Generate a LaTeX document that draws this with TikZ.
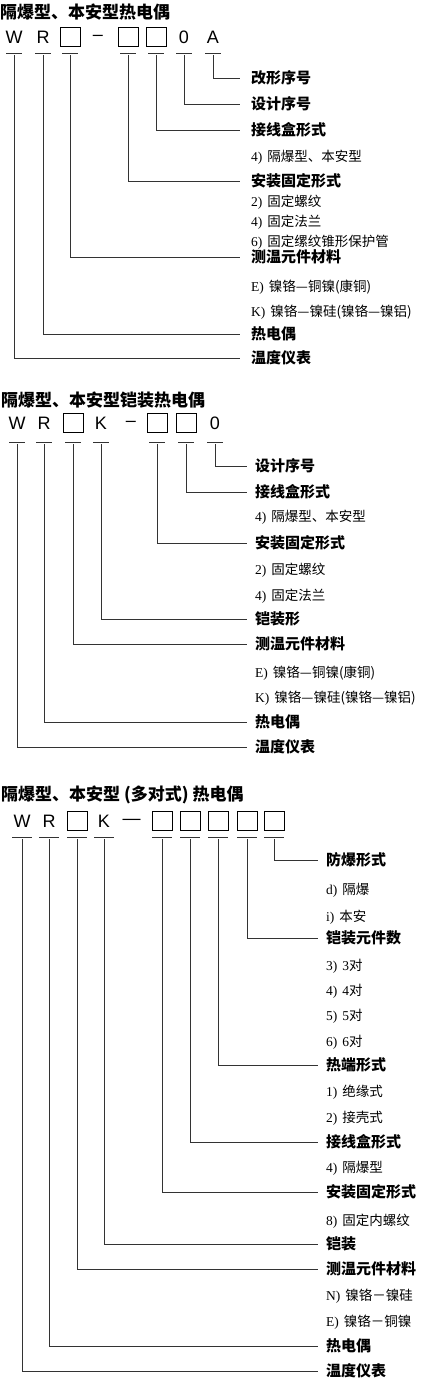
\documentclass[tikz,border=0pt]{standalone}
\usepackage{fontspec}
\setmainfont{Liberation Serif}
\newfontfamily\cjk{Noto Sans CJK SC}
\newfontfamily\lsans{Liberation Sans}
\usetikzlibrary{calc}
\newcommand\ittx[2]{#1\hspace{5pt}{\cjk #2}}
\begin{document}
\begin{tikzpicture}[x=1pt,y=-1pt,
  ttl/.style={anchor=west,inner sep=0pt,font=\cjk\bfseries\fontsize{17}{17}\selectfont},
  ch/.style={inner sep=0pt,font=\lsans\fontsize{18}{18}\selectfont},
  bx/.style={draw,line width=0.8pt,minimum width=20pt,minimum height=19pt,inner sep=0pt},
  hd/.style={anchor=west,inner sep=0pt,font=\cjk\bfseries\fontsize{15}{15}\selectfont},
  itm/.style={anchor=west,inner sep=0pt,font=\fontsize{13.5}{13.5}\selectfont},
  conn/.style={line width=0.6pt,draw=black!80},
  tk/.style={line width=0.6pt,draw=black!80}
]
\useasboundingbox (0,0) rectangle (427,1379);

% ===== Section 1 =====
\node[ttl] (aT) at (0,12) {隔爆型、本安型热电偶};
\node[ch] (aW) at (14,37) {W};
\node[ch] (aR) at (43,37) {R};
\node[bx] (aB1) at (70,37) {};
\node[ch] (aD) at (98,38) {–};
\node[bx] (aB2) at (128,37) {};
\node[bx] (aB3) at (156,37) {};
\node[ch] (a0) at (184,37) {0};
\node[ch] (aA) at (213,37) {A};
\coordinate (at) at (0,53);
\coordinate (av) at (0,55);
\foreach \n in {aW,aR,aB1,aB2,aB3,a0,aA}
  \draw[tk] ($(\n |- at)+(-8,0)$) -- ($(\n |- at)+(8,0)$);

\node[hd] (aL1) at (251,78) {改形序号};
\node[hd] (aL2) at (251,104) {设计序号};
\node[hd] (aL3) at (251,130) {接线盒形式};
\node[itm] (aI1) at (251,157) {\ittx{4)}{隔爆型、本安型}};
\node[hd] (aL4) at (251,181) {安装固定形式};
\node[itm] (aI2) at (251,202) {\ittx{2)}{固定螺纹}};
\node[itm] (aI3) at (251,222) {\ittx{4)}{固定法兰}};
\node[itm] (aI4) at (251,242) {\ittx{6)}{固定缧纹锥形保护管}};
\node[hd] (aL5) at (251,257) {测温元件材料};
\node[itm] (aI5) at (251,287) {\ittx{E)}{镍铬—铜镍(康铜)}};
\node[itm] (aI6) at (251,312) {\ittx{K)}{镍铬—镍硅(镍铬—镍铝)}};
\node[hd] (aL6) at (251,334) {热电偶};
\node[hd] (aL7) at (251,358) {温度仪表};

\draw[conn,shorten >=11pt] (aA |- av) |- (aL1.west);
\draw[conn,shorten >=11pt] (a0 |- av) |- (aL2.west);
\draw[conn,shorten >=11pt] (aB3 |- av) |- (aL3.west);
\draw[conn,shorten >=11pt] (aB2 |- av) |- (aL4.west);
\draw[conn,shorten >=11pt] (aB1 |- av) |- (aL5.west);
\draw[conn,shorten >=11pt] (aR |- av) |- (aL6.west);
\draw[conn,shorten >=11pt] (aW |- av) |- (aL7.west);

% ===== Section 2 =====
\node[ttl] (bT) at (1,400) {隔爆型、本安型铠装热电偶};
\node[ch] (bW) at (17,423) {W};
\node[ch] (bR) at (44,423) {R};
\node[bx] (bB1) at (73,423) {};
\node[ch] (bK) at (101,423) {K};
\node[ch] (bD) at (131,424) {–};
\node[bx] (bB2) at (157,423) {};
\node[bx] (bB3) at (186,423) {};
\node[ch] (b0) at (215,423) {0};
\coordinate (bt) at (0,442);
\coordinate (bv) at (0,444);
\foreach \n in {bW,bR,bB1,bK,bB2,bB3,b0}
  \draw[tk] ($(\n |- bt)+(-8,0)$) -- ($(\n |- bt)+(8,0)$);

\node[hd] (bL1) at (255,466) {设计序号};
\node[hd] (bL2) at (255,492) {接线盒形式};
\node[itm] (bI1) at (255,517) {\ittx{4)}{隔爆型、本安型}};
\node[hd] (bL3) at (255,543) {安装固定形式};
\node[itm] (bI2) at (255,570) {\ittx{2)}{固定螺纹}};
\node[itm] (bI3) at (255,596) {\ittx{4)}{固定法兰}};
\node[hd] (bL4) at (255,619) {铠装形};
\node[hd] (bL5) at (255,644) {测温元件材料};
\node[itm] (bI4) at (255,673) {\ittx{E)}{镍铬—铜镍(康铜)}};
\node[itm] (bI5) at (255,698) {\ittx{K)}{镍铬—镍硅(镍铬—镍铝)}};
\node[hd] (bL6) at (255,722) {热电偶};
\node[hd] (bL7) at (255,747) {温度仪表};

\draw[conn,shorten >=8pt] (b0 |- bv) |- (bL1.west);
\draw[conn,shorten >=8pt] (bB3 |- bv) |- (bL2.west);
\draw[conn,shorten >=8pt] (bB2 |- bv) |- (bL3.west);
\draw[conn,shorten >=8pt] (bK |- bv) |- (bL4.west);
\draw[conn,shorten >=8pt] (bB1 |- bv) |- (bL5.west);
\draw[conn,shorten >=8pt] (bR |- bv) |- (bL6.west);
\draw[conn,shorten >=8pt] (bW |- bv) |- (bL7.west);

% ===== Section 3 =====
\node[ttl] (cT) at (1,795) {隔爆型、本安型 (多对式) 热电偶};
\node[ch] (cW) at (22,821) {W};
\node[ch] (cR) at (49,821) {R};
\node[bx] (cB1) at (77,821) {};
\node[ch] (cK) at (104,821) {K};
\node[ch] (cD) at (131.5,822) {—};
\node[bx] (cB2) at (162,821) {};
\node[bx] (cB3) at (190,821) {};
\node[bx] (cB4) at (218,821) {};
\node[bx] (cB5) at (247,821) {};
\node[bx] (cB6) at (274,821) {};
\coordinate (ct) at (0,837);
\coordinate (cv) at (0,839);
\foreach \n in {cW,cR,cB1,cK,cB2,cB3,cB4,cB5,cB6}
  \draw[tk] ($(\n |- ct)+(-10,0)$) -- ($(\n |- ct)+(10,0)$);

\node[hd] (cL1) at (326,860) {防爆形式};
\node[itm] (cI1) at (326,890) {\ittx{d)}{隔爆}};
\node[itm] (cI2) at (326,917) {\ittx{i)}{本安}};
\node[hd] (cL2) at (326,938) {铠装元件数};
\node[itm] (cI3) at (326,966) {\ittx{3)}{{\rmfamily 3}对}};
\node[itm] (cI4) at (326,991) {\ittx{4)}{{\rmfamily 4}对}};
\node[itm] (cI5) at (326,1016) {\ittx{5)}{{\rmfamily 5}对}};
\node[itm] (cI6) at (326,1042) {\ittx{6)}{{\rmfamily 6}对}};
\node[hd] (cL3) at (326,1065) {热端形式};
\node[itm] (cI7) at (326,1092) {\ittx{1)}{绝缘式}};
\node[itm] (cI8) at (326,1118) {\ittx{2)}{接壳式}};
\node[hd] (cL4) at (326,1142) {接线盒形式};
\node[itm] (cI9) at (326,1168) {\ittx{4)}{隔爆型}};
\node[hd] (cL5) at (326,1192) {安装固定形式};
\node[itm] (cI10) at (326,1221) {\ittx{8)}{固定内螺纹}};
\node[hd] (cL6) at (326,1244) {铠装};
\node[hd] (cL7) at (326,1269) {测温元件材料};
\node[itm] (cI11) at (326,1296) {\ittx{N)}{镍铬－镍硅}};
\node[itm] (cI12) at (326,1322) {\ittx{E)}{镍铬－铜镍}};
\node[hd] (cL8) at (326,1346) {热电偶};
\node[hd] (cL9) at (326,1371) {温度仪表};

\draw[conn,shorten >=8pt] (cB6 |- cv) |- (cL1.west);
\draw[conn,shorten >=8pt] (cB5 |- cv) |- (cL2.west);
\draw[conn,shorten >=8pt] (cB4 |- cv) |- (cL3.west);
\draw[conn,shorten >=8pt] (cB3 |- cv) |- (cL4.west);
\draw[conn,shorten >=8pt] (cB2 |- cv) |- (cL5.west);
\draw[conn,shorten >=8pt] (cK |- cv) |- (cL6.west);
\draw[conn,shorten >=8pt] (cB1 |- cv) |- (cL7.west);
\draw[conn,shorten >=8pt] (cR |- cv) |- (cL8.west);
\draw[conn,shorten >=8pt] (cW |- cv) |- (cL9.west);
\end{tikzpicture}
\end{document}
